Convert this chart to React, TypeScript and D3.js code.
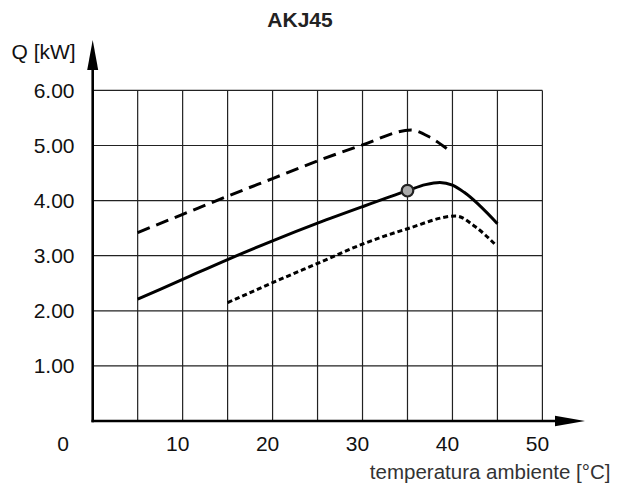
import React from "react";
import * as d3 from "d3";

const title = "AKJ45";
const yAxisLabel = "Q [kW]";
const xAxisLabel = "temperatura ambiente [°C]";
const xTicks = [0, 10, 20, 30, 40, 50];
const yTicks = [1, 2, 3, 4, 5, 6];
const xGrid = [5, 10, 15, 20, 25, 30, 35, 40, 45, 50];

// temperature (°C) -> Q (kW)
const solidT = [5, 10, 15, 20, 25, 30, 35, 37, 38.6, 40, 41.3, 45];
const solidQ = [2.21, 2.57, 2.93, 3.27, 3.59, 3.89, 4.18, 4.29, 4.33, 4.28, 4.15, 3.58];
const dashedT = [5, 10, 15, 20, 25, 30, 35.4, 37.5, 39.4];
const dashedQ = [3.42, 3.75, 4.08, 4.4, 4.72, 5.01, 5.28, 5.15, 4.94];
const dottedT = [15, 20, 25, 30, 35, 40.4, 42.5, 44.9];
const dottedQ = [2.15, 2.51, 2.86, 3.21, 3.49, 3.72, 3.53, 3.18];
const markerT = [35];
const markerQ = [4.18];

const W = 619;
const H = 483;
const FONT = "'Liberation Sans', Arial, Helvetica, sans-serif";

export default function App() {
  const x = d3.scaleLinear().domain([0, 50]).range([92.7, 542.4]);
  const y = d3.scaleLinear().domain([0, 6]).range([421, 90.4]);
  const line = d3
    .line<[number, number]>()
    .x((d) => x(d[0]))
    .y((d) => y(d[1]))
    .curve(d3.curveMonotoneX);
  const zip = (a: number[], b: number[]) => a.map((v, i) => [v, b[i]] as [number, number]);

  const x0 = x(0);
  const y0 = y(0);

  return (
    <svg
      width={W}
      height={H}
      style={{ position: "absolute", left: 0, top: 0, background: "#fff" }}
      fontFamily={FONT}
    >
      <rect width={W} height={H} fill="#fff" />
      {/* grid */}
      {xGrid.map((t) => (
        <line key={"gx" + t} x1={x(t)} x2={x(t)} y1={y(0)} y2={y(6)} stroke="#222" strokeWidth={1.2} />
      ))}
      {yTicks.map((q) => (
        <line key={"gy" + q} x1={x0} x2={x(50)} y1={y(q)} y2={y(q)} stroke="#222" strokeWidth={1.2} />
      ))}
      {/* axes */}
      <line x1={x0} x2={x0} y1={y0 + 1.2} y2={66} stroke="#000" strokeWidth={2.6} />
      <path d={`M${x0},40 L${x0 - 5.5},70 L${x0 + 5.5},70 Z`} fill="#000" />
      <line x1={x0 - 1.2} x2={558} y1={y0} y2={y0} stroke="#000" strokeWidth={2.6} />
      <path d={`M585,${y0} L555,${y0 - 5.3} L555,${y0 + 5.3} Z`} fill="#000" />

      {/* curves */}
      <path d={line(zip(dashedT, dashedQ)) || ""} fill="none" stroke="#000" strokeWidth={3} strokeDasharray="13 7" />
      <path d={line(zip(dottedT, dottedQ)) || ""} fill="none" stroke="#000" strokeWidth={3} strokeDasharray="5 3" />
      <path d={line(zip(solidT, solidQ)) || ""} fill="none" stroke="#000" strokeWidth={3} />
      {markerT.map((t, i) => (
        <circle key={"m" + i} cx={x(t)} cy={y(markerQ[i])} r={5.8} fill="#aaa" stroke="#222" strokeWidth={2.2} />
      ))}

      {/* y tick labels */}
      {yTicks.map((q) => (
        <text key={"yl" + q} x={74.5} y={y(q) + 7.2} textAnchor="end" fontSize={21} fill="#111">
          {q.toFixed(2)}
        </text>
      ))}
      {/* x tick labels */}
      {xTicks.map((t) => (
        <text
          key={"xl" + t}
          x={t === 0 ? 63 : x(t) - 5}
          y={450.7}
          textAnchor="middle"
          fontSize={21}
          fill="#111"
        >
          {t}
        </text>
      ))}
      <text x={11.5} y={59} fontSize={21} fill="#111">
        {yAxisLabel}
      </text>
      <text x={610.5} y={479.3} textAnchor="end" fontSize={20.5} fill="#333">
        {xAxisLabel}
      </text>
      <text x={300} y={27.3} textAnchor="middle" fontSize={21} fontWeight="bold" fill="#222">
        {title}
      </text>
    </svg>
  );
}
